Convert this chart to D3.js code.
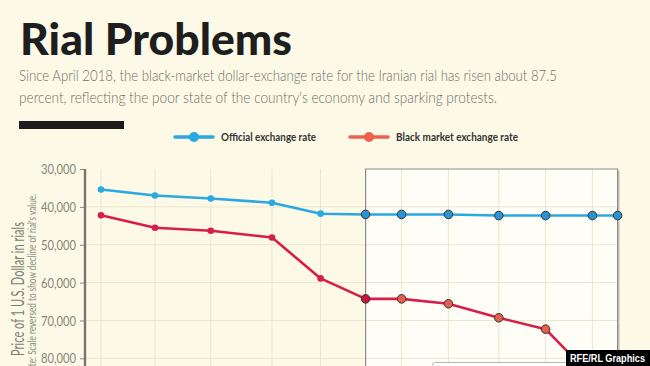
<!DOCTYPE html>
<html><head><meta charset="utf-8">
<script src="https://cdn.jsdelivr.net/npm/d3@7"></script>
<style>
html,body{margin:0;padding:0;background:#fcfae6;overflow:hidden}
svg{display:block}
</style></head>
<body>
<svg id="chart" width="650" height="366"></svg>
<script>
// ---- data ----
const dates = ["2017-11-20","2017-12-20","2018-01-20","2018-02-23","2018-03-22","2018-04-16",
               "2018-05-06","2018-06-01","2018-06-29","2018-07-25","2018-08-20","2018-09-03"];
const official = [35400, 37000, 37800, 38900, 41800, 42000, 42000, 42000, 42300, 42300, 42300, 42300];
const blackMarket = [42200, 45500, 46300, 48100, 58900, 64300, 64300, 65600, 69300, 72300, 85000, 112500];
const yTicks = [30000, 40000, 50000, 60000, 70000, 80000];
const highlightStart = "2018-04-16";
const seriesNames = ["Official exchange rate", "Black market exchange rate"];
const titleText = "Rial Problems";
const subtitleLines = [
  "Since April 2018, the black-market dollar-exchange rate for the Iranian rial has risen about 87.5",
  "percent, reflecting the poor state of the country's economy and sparking protests."
];
const yTitle = "Price of 1 U.S. Dollar in rials";
const yNote = "Note: Scale reversed to show decline of rial's value.";
const credit = "RFE/RL Graphics";

// ---- setup ----
const svg = d3.select("#chart");
const W = 650, H = 366;
const parse = d3.utcParse("%Y-%m-%d");
const pts = dates.map((d, i) => ({date: parse(d), off: official[i], bm: blackMarket[i], i}));
const hlDate = parse(highlightStart);

const axisX = 85, plotRight = 617.6, firstX = 101;
const x = d3.scaleUtc().domain(d3.extent(pts, d => d.date)).range([firstX, plotRight]);
const y = d3.scaleLinear().domain([30000, 120000]).range([169, 169 + 9 * 37.86]);

const C = {bg:"#fcfae6", blue:"#2aa8e2", red:"#d81c4c", legRed:"#ef5f4e", grid:"#e9e6cf",
           text:"#222", grey:"#6e6d66", tick:"#858479"};

svg.append("rect").attr("width", W).attr("height", H).attr("fill", C.bg);

// ---- title & subtitle ----
svg.append("text").attr("x", 20).attr("y", 55).text(titleText)
  .attr("font-family", "Lato, 'Open Sans', sans-serif").attr("font-weight", 900)
  .attr("font-size", 44).attr("fill", "#1e1e1e")
  .attr("textLength", 272).attr("lengthAdjust", "spacingAndGlyphs");

const subLens = [538, 478];
subtitleLines.forEach((t, i) => {
  svg.append("text").attr("x", 19).attr("y", 81 + i * 22).text(t)
    .attr("font-family", "Lato, 'Open Sans', sans-serif").attr("font-weight", 300)
    .attr("font-size", 15.5).attr("fill", C.grey)
    .attr("textLength", subLens[i]).attr("lengthAdjust", "spacingAndGlyphs");
});

svg.append("rect").attr("x", 19).attr("y", 121).attr("width", 105).attr("height", 8).attr("fill", "#1c1c1c");

// ---- legend ----
const legend = [
  {name: seriesNames[0], color: C.blue, x0: 175, tx: 221, len: 95},
  {name: seriesNames[1], color: C.legRed, x0: 350, tx: 396, len: 122}
];
legend.forEach(l => {
  const g = svg.append("g");
  g.append("line").attr("x1", l.x0).attr("x2", l.x0 + 38).attr("y1", 137).attr("y2", 137)
    .attr("stroke", l.color).attr("stroke-width", 3.5).attr("stroke-linecap", "round");
  g.append("circle").attr("cx", l.x0 + 19).attr("cy", 137).attr("r", 5).attr("fill", l.color);
  g.append("text").attr("x", l.tx).attr("y", 141).text(l.name)
    .attr("font-family", "Lato, 'Open Sans', sans-serif").attr("font-weight", 700)
    .attr("font-size", 11.5).attr("fill", "#333")
    .attr("textLength", l.len).attr("lengthAdjust", "spacingAndGlyphs");
});

// ---- highlight box ----
const boxX = x(hlDate), boxY = y(30000);
svg.append("rect").attr("x", boxX + 2).attr("y", boxY + 2).attr("width", plotRight - boxX).attr("height", H)
  .attr("fill", "#c9c6b6");
svg.append("rect").attr("x", boxX).attr("y", boxY).attr("width", plotRight - boxX).attr("height", H)
  .attr("fill", "#fffef6");

// ---- grid ----
const gridVals = y.ticks(10).filter(d => d > 30000);
const grid = svg.append("g");
grid.selectAll(".hg").data(gridVals).join("line")
  .attr("x1", axisX).attr("x2", plotRight).attr("y1", d => y(d)).attr("y2", d => y(d))
  .attr("stroke", C.grid).attr("stroke-width", 1);
grid.selectAll(".vg").data(pts).join("line")
  .attr("x1", d => x(d.date)).attr("x2", d => x(d.date)).attr("y1", y(30000)).attr("y2", H)
  .attr("stroke", C.grid).attr("stroke-width", 1);

// box border
svg.append("path")
  .attr("d", `M${boxX},${H}V${boxY}H${plotRight}V${H}`)
  .attr("fill", "none").attr("stroke", "#8e8c82").attr("stroke-width", 1.2);

// ---- axis ----
const ax = svg.append("g").attr("transform", `translate(${axisX},0)`)
  .call(d3.axisLeft(y).tickValues(yTicks).tickSize(5).tickPadding(4).tickFormat(d3.format(",")));
ax.select(".domain").remove();
ax.selectAll(".tick line").attr("stroke", "#8a877c").attr("stroke-width", 1);
ax.selectAll(".tick text").attr("font-family", "Lato, 'Open Sans', sans-serif")
  .attr("font-size", 13.5).attr("fill", C.tick).attr("dy", "0.34em")
  .attr("textLength", 35).attr("lengthAdjust", "spacingAndGlyphs");
svg.append("line").attr("x1", axisX).attr("x2", axisX).attr("y1", y(30000)).attr("y2", H)
  .attr("stroke", "#76736a").attr("stroke-width", 2.4);

// axis title
svg.append("text").attr("transform", "translate(24,222) rotate(-90)")
  .attr("text-anchor", "end").text(yTitle)
  .attr("font-family", "Lato, 'Open Sans', sans-serif").attr("font-weight", 400)
  .attr("font-size", 17.5).attr("fill", "#7e7d74")
  .attr("textLength", 134).attr("lengthAdjust", "spacingAndGlyphs");
svg.append("text").attr("transform", "translate(36,194) rotate(-90)")
  .attr("text-anchor", "end").text(yNote)
  .attr("font-family", "Lato, 'Open Sans', sans-serif").attr("font-weight", 400)
  .attr("font-size", 11).attr("fill", "#8e8d84")
  .attr("textLength", 183).attr("lengthAdjust", "spacingAndGlyphs");

// ---- lines ----
const lineOff = d3.line().x(d => x(d.date)).y(d => y(d.off));
const lineBm = d3.line().x(d => x(d.date)).y(d => y(d.bm));
svg.append("path").datum(pts).attr("d", lineOff).attr("fill", "none")
  .attr("stroke", C.blue).attr("stroke-width", 2.6).attr("stroke-linejoin", "round");
svg.append("path").datum(pts).attr("d", lineBm).attr("fill", "none")
  .attr("stroke", C.red).attr("stroke-width", 2.6).attr("stroke-linejoin", "round");

// ---- dots ----
const inBox = d => d.date >= hlDate;
svg.selectAll(".dotOff").data(pts).join("circle")
  .attr("cx", d => x(d.date)).attr("cy", d => y(d.off))
  .attr("r", d => inBox(d) ? 4.3 : 3.3)
  .attr("fill", d => inBox(d) ? "#2a93d4" : C.blue)
  .attr("stroke", d => inBox(d) ? "#333" : "none").attr("stroke-width", 1);
svg.selectAll(".dotBm").data(pts).join("circle")
  .attr("cx", d => x(d.date)).attr("cy", d => y(d.bm))
  .attr("r", d => inBox(d) ? 4.3 : 3.3)
  .attr("fill", d => !inBox(d) ? C.red : (+d.date === +hlDate ? "#c8123f" : "#e2604d"))
  .attr("stroke", d => inBox(d) ? "#333" : "none").attr("stroke-width", 1);

// ---- tooltip edge & credit ----
svg.append("rect").attr("x", 432.5).attr("y", 362.5).attr("width", 180).attr("height", 30).attr("rx", 3)
  .attr("fill", "#ffffff").attr("stroke", "#b9b7ad");
svg.append("rect").attr("x", 566).attr("y", 350).attr("width", 84).attr("height", 16).attr("fill", "#000");
svg.append("text").attr("x", 570).attr("y", 362).text(credit)
  .attr("font-family", "'Liberation Sans', Arial, sans-serif").attr("font-weight", 700)
  .attr("font-size", 11.5).attr("fill", "#fff")
  .attr("textLength", 75).attr("lengthAdjust", "spacingAndGlyphs");
</script>
</body></html>
